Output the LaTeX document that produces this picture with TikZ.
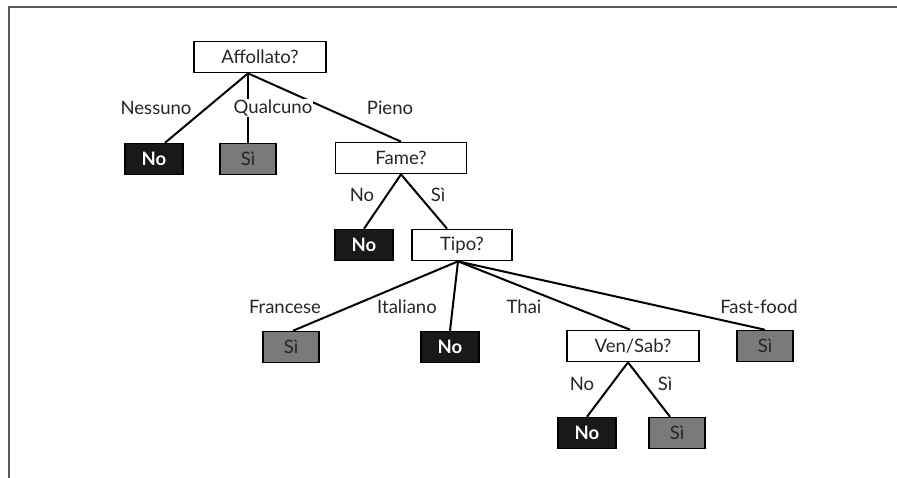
\documentclass[tikz,border=0pt]{standalone}
\usepackage{fontspec}
\setmainfont{Lato}
\usetikzlibrary{calc}

\begin{document}
\begin{tikzpicture}[x=1pt,y=-1pt,font=\fontsize{18.5}{21}\selectfont]
\tikzset{domanda/.style={draw,line width=1.7pt,minimum height=31pt,inner sep=2pt,text=black!85},
fogliano/.style={draw,line width=1.5pt,fill=black!90,text=white,minimum width=58pt,minimum height=31pt,font=\fontsize{18.5}{21}\selectfont\bfseries},
fogliasi/.style={draw,line width=1.5pt,fill=black!52,text=black!85,minimum width=56pt,minimum height=31pt},
ramo/.style={fill=white,inner sep=1pt,text=black!85}}
\useasboundingbox (0,0) rectangle (897,477);
\draw[black!65,line width=1.8pt] (9,490) -- (9,7) -- (910,7);

% Nodi di test
\node (1) at (260,57) [domanda,minimum width=132pt] {Affollato?};
\node (4) at (401,158) [domanda,minimum width=131pt] {Fame?};
\node (6) at (462,245) [domanda,minimum width=100pt] {Tipo?};
\node (9) at (633,346) [domanda,minimum width=132pt] {Ven/Sab?};
% Foglie
\node (2) at (154,159) [fogliano] {No};
\node (3) at (248,159) [fogliasi] {Sì};
\node (5) at (364,245) [fogliano] {No};
\node (7) at (291,347) [fogliasi] {Sì};
\node (8) at (450,347) [fogliano] {No};
\node (10) at (765,346) [fogliasi] {Sì};
\node (11) at (587,433) [fogliano] {No};
\node (12) at (677,433) [fogliasi] {Sì};
% Punti di partenza
\coordinate (r1) at (1.south -| 3);
\coordinate (r6) at ($(6.south)+(-4,0)$);

\draw[line width=2pt] (r1) -- ($(2.north)+(11,0)$);
\draw[line width=2pt] (r1) -- (3.north);
\draw[line width=2pt] (r1) -- (4.north);
\draw[line width=2pt] (4.south) -- (5.north);
\draw[line width=2pt] (4.south) -- ($(6.north)+(-15,0)$);
\draw[line width=2pt] (r6) -- ($(7.north)+(2,0)$);
\draw[line width=2pt] (r6) -- (8.north);
\draw[line width=2pt] (r6) -- ($(9.north)+(-3,0)$);
\draw[line width=2pt] (r6) -- (10.north);
\draw[line width=2pt] ($(9.south)+(-5,0)$) -- (11.north);
\draw[line width=2pt] ($(9.south)+(-5,0)$) -- ($(12.north)+(-7,0)$);

% Etichette dei rami
\node (e1) at (156,108) [ramo] {Nessuno};
\node (e2) at (273,108) [ramo] {Qualcuno};
\node (e3) at (390,108) [ramo] {Pieno};
\node (e4) at (362,195) [ramo] {No};
\node (e5) at (438,195) [ramo] {Sì};
\node (e6) at (285,307) [ramo] {Francese};
\node (e7) at (407,307) [ramo] {Italiano};
\node (e8) at (524,307) [ramo] {Thai};
\node (e9) at (759,307) [ramo] {Fast-food};
\node (e10) at (582,384) [ramo] {No};
\node (e11) at (665,384) [ramo] {Sì};

\end{tikzpicture}
\end{document}
